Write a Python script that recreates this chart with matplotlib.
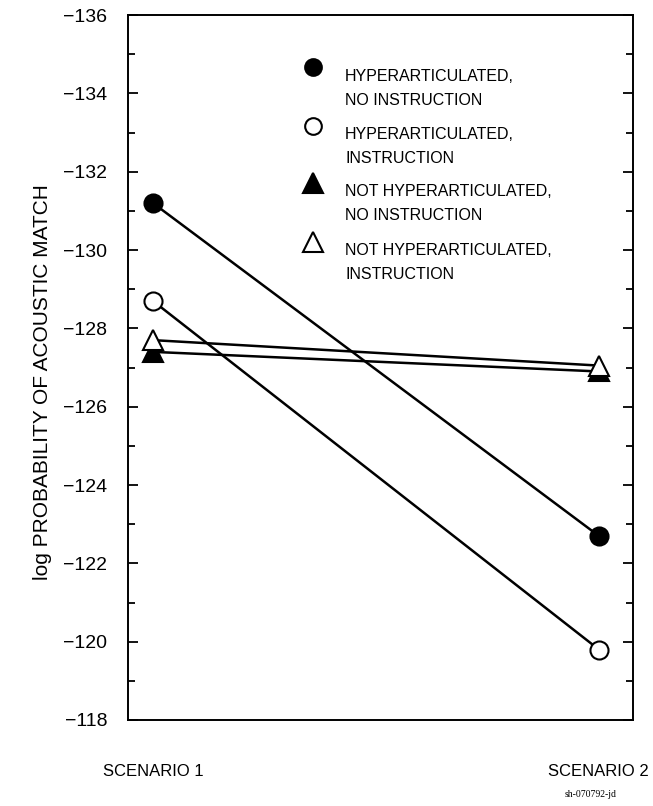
import numpy as np
import matplotlib
matplotlib.use("Agg")
import matplotlib.pyplot as plt
from matplotlib.ticker import MultipleLocator

plt.rcParams["font.family"] = ["Liberation Sans", "DejaVu Sans"]

SCENARIOS = ["SCENARIO 1", "SCENARIO 2"]
LABELS = [
    "HYPERARTICULATED,\nNO INSTRUCTION",
    "HYPERARTICULATED,\nINSTRUCTION",
    "NOT HYPERARTICULATED,\nNO INSTRUCTION",
    "NOT HYPERARTICULATED,\nINSTRUCTION",
]
HYPER_NO_INSTR = [-131.2, -122.7]
HYPER_INSTR = [-128.7, -119.8]
NOT_HYPER_NO_INSTR = [-127.4, -126.9]
NOT_HYPER_INSTR = [-127.7, -127.05]

SERIES = [HYPER_NO_INSTR, HYPER_INSTR, NOT_HYPER_NO_INSTR, NOT_HYPER_INSTR]
MARKERS = ["o", "o", "^", "^"]
FACES = ["black", "white", "black", "white"]
SIZES = [13, 13, 15, 15]

fig = plt.figure(figsize=(6.53, 8.06), dpi=100)
ax = fig.add_axes([0.196, 0.1067, 0.773, 0.8746])

x = np.arange(1, len(SCENARIOS) + 1)
draw_order = [2, 3, 0, 1]
for i in draw_order:
    ax.plot(x, SERIES[i], color="black", lw=1.8, zorder=2)
for i in draw_order:
    ax.plot(x, SERIES[i], ls="none", marker=MARKERS[i], ms=SIZES[i],
            mfc=FACES[i], mec="black", mew=1.5, zorder=3)

ax.set_ylim(-118, -136)
ax.set_xlim(0.944, 2.076)
ax.yaxis.set_major_locator(MultipleLocator(2))
ax.yaxis.set_minor_locator(MultipleLocator(1))
ax.set_yticklabels([f"\u2212{abs(int(v))}" for v in ax.get_yticks()])
ax.tick_params(axis="y", which="both", direction="in", right=True,
               width=1.3, labelsize=14, pad=15)
ax.tick_params(axis="y", which="major", length=7)
ax.tick_params(axis="y", which="minor", length=5)
ax.set_xticks(x)
ax.set_xticklabels(SCENARIOS, fontsize=12)
ax.tick_params(axis="x", length=0, pad=32)
for s in ax.spines.values():
    s.set_linewidth(1.4)
ax.set_ylabel("log PROBABILITY OF ACOUSTIC MATCH", fontsize=15)
ax.yaxis.set_label_coords(-0.15, 0.48)

# legend, drawn by hand so the marker sits on the first text line
leg_y = [0.926, 0.843, 0.762, 0.678]
for i, lab in enumerate(LABELS):
    ax.plot([0.366], [leg_y[i]], transform=ax.transAxes, ls="none",
            marker=MARKERS[i], ms=SIZES[i] - 1, mfc=FACES[i], mec="black",
            mew=1.5, clip_on=False)
    ax.text(0.43, leg_y[i] - 0.002, lab, transform=ax.transAxes,
            fontsize=11.5, va="top", ha="left", linespacing=1.75)

fig.text(0.905, 0.011, "sh-070792-jd", fontsize=7, ha="center",
         family=["Liberation Serif", "DejaVu Serif"])

fig.savefig("out.png", dpi=100)
